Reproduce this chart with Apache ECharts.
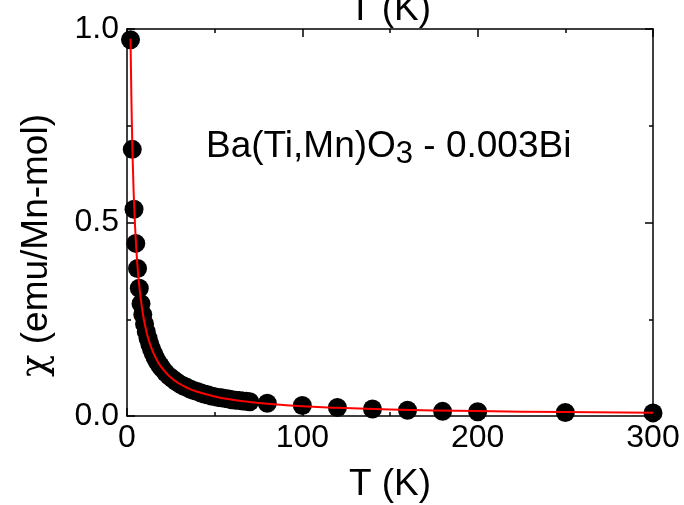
<!DOCTYPE html>
<html>
<head>
<meta charset="utf-8">
<script src="https://cdn.jsdelivr.net/npm/echarts@6/dist/echarts.min.js"></script>
<style>
  html, body { margin: 0; padding: 0; background: #fff; }
  #chart { width: 684px; height: 505px; }
</style>
</head>
<body>
<div id="chart"></div>
<script>
// measured points, T (K) and chi (emu/Mn-mol)
var tempData = [2, 3, 4, 5, 6, 7, 8, 9, 10, 11, 12, 13, 14, 15, 16, 17, 18, 19, 20,
  22, 24, 26, 28, 30, 32, 34, 36, 38, 40, 42, 44, 46, 48, 50, 52, 54, 56, 58, 60,
  62, 64, 66, 68, 70, 80, 100, 120, 140, 160, 180, 200, 250, 300];
var chiData = [0.972, 0.689, 0.534, 0.446, 0.381, 0.330, 0.290, 0.262, 0.238, 0.218,
  0.201, 0.186, 0.173, 0.162, 0.152, 0.143, 0.136, 0.129, 0.123,
  0.112, 0.103, 0.096, 0.089, 0.083, 0.078, 0.074, 0.070, 0.066, 0.063, 0.060,
  0.057, 0.055, 0.052, 0.050, 0.048, 0.047, 0.045, 0.044, 0.042,
  0.041, 0.040, 0.039, 0.038, 0.037, 0.033, 0.027, 0.022, 0.018, 0.015, 0.012,
  0.011, 0.009, 0.008];

// red fit curve
var fitTemp = [2, 2.5, 3, 3.5, 4, 5, 6, 7, 8, 9, 10, 12, 14, 16, 18, 20, 25, 30, 35,
  40, 50, 60, 70, 80, 100, 120, 150, 200, 250, 300];
var fitChi = [0.975, 0.823, 0.708, 0.622, 0.554, 0.455, 0.386, 0.336, 0.297, 0.266,
  0.241, 0.202, 0.175, 0.154, 0.137, 0.124, 0.0996, 0.0833, 0.0716, 0.0628, 0.0504,
  0.0421, 0.0361, 0.0316, 0.0253, 0.0211, 0.0169, 0.0127, 0.0102, 0.0085];

var xTitle = 'T (K)';
var yTitle = '{chi|χ} (emu/Mn-mol)';

var chart = echarts.init(document.getElementById('chart'));
var font = 'Liberation Sans, Arial, sans-serif';

var axisLine = { show: true, onZero: false, lineStyle: { color: '#000', width: 1.5 } };
var tick = { show: true, inside: true, length: 8, lineStyle: { color: '#000', width: 1.5 } };
var minor = { show: true, splitNumber: 2, length: 4, lineStyle: { color: '#000', width: 1.5 } };

var option = {
  animation: false,
  backgroundColor: '#fff',
  grid: { left: 127, right: 31, top: 29, bottom: 89, outerBoundsMode: 'none', containLabel: false },
  xAxis: [{
    type: 'value', min: 0, max: 300, interval: 100, position: 'bottom',
    name: xTitle, nameLocation: 'middle', nameGap: 50,
    nameTextStyle: { fontFamily: font, fontSize: 37, color: '#000' },
    axisLine: axisLine, axisTick: tick, minorTick: minor,
    splitLine: { show: false },
    axisLabel: { fontFamily: font, fontSize: 32, color: '#000', margin: 6 }
  }, {
    type: 'value', min: 0, max: 300, interval: 100, position: 'top',
    name: xTitle, nameLocation: 'middle', nameGap: 1,
    nameTextStyle: { fontFamily: font, fontSize: 37, color: '#000', verticalAlign: 'bottom' },
    axisLine: axisLine, axisTick: tick, minorTick: minor,
    splitLine: { show: false }, axisLabel: { show: false }
  }],
  yAxis: [{
    type: 'value', min: 0, max: 1, interval: 0.5, position: 'left',
    name: yTitle, nameLocation: 'middle', nameGap: 72, nameRotate: 90,
    nameTextStyle: {
      fontFamily: font, fontSize: 37, color: '#000', padding: [0, 46, 0, 0],
      rich: { chi: { fontFamily: 'DejaVu Serif', fontStyle: 'normal', fontSize: 37, color: '#000' } }
    },
    axisLine: axisLine, axisTick: tick, minorTick: minor,
    splitLine: { show: false },
    axisLabel: { fontFamily: font, fontSize: 32, color: '#000', margin: 8,
      formatter: function (v) { return v.toFixed(1); } }
  }, {
    type: 'value', min: 0, max: 1, interval: 0.5, position: 'right',
    axisLine: axisLine, axisTick: tick, minorTick: minor,
    splitLine: { show: false }, axisLabel: { show: false }
  }],
  graphic: [{
    type: 'text', left: 206, top: 128,
    style: {
      text: '{m|Ba(Ti,Mn)O}{sub|3}{m| - 0.003Bi}',
      rich: {
        m: { fontSize: 37, fontFamily: font, fill: '#000', lineHeight: 46, verticalAlign: 'middle' },
        sub: { fontSize: 31, fontFamily: font, fill: '#000', lineHeight: 32, verticalAlign: 'bottom' }
      }
    }
  }],
  series: [{
    type: 'scatter',
    data: tempData.map(function (t, i) { return [t, chiData[i]]; }),
    symbol: 'circle', symbolSize: 19, clip: false,
    itemStyle: { color: '#000', opacity: 1 }
  }, {
    type: 'line',
    data: fitTemp.map(function (t, i) { return [t, fitChi[i]]; }),
    smooth: true, showSymbol: false, z: 5,
    lineStyle: { color: '#ff0000', width: 2 }
  }]
};

chart.setOption(option);
</script>
</body>
</html>
